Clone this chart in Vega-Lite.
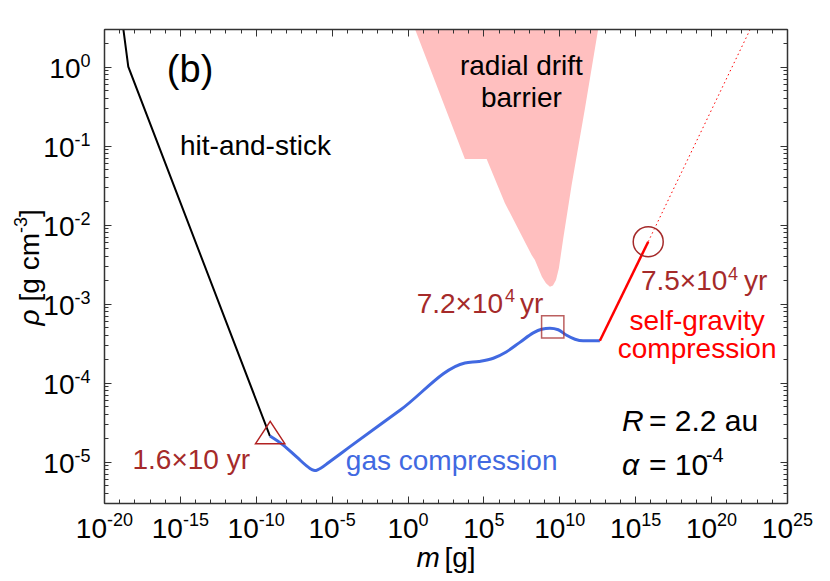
{
  "$schema": "https://vega.github.io/schema/vega-lite/v6.json",
  "width": 683,
  "height": 474,
  "autosize": "none",
  "padding": {"left": 104, "top": 29, "right": 43, "bottom": 78},
  "background": "white",
  "config": {
    "view": {"stroke": null},
    "font": "Liberation Sans",
    "axis": {"grid": false, "tickColor": "#333", "domainColor": "#333", "labelColor": "black", "titleColor": "black"}
  },
  "resolve": {"axis": {"x": "independent", "y": "independent"}},
  "datasets": {
    "barrier": [
      {"m": 3.07, "rho": 3.0},
      {"m": 6026, "rho": 0.0679},
      {"m": 162200, "rho": 0.0679},
      {"m": 2570000, "rho": 0.01884},
      {"m": 149600000, "rho": 0.00413},
      {"m": 245500000, "rho": 0.00357},
      {"m": 708000000, "rho": 0.00219},
      {"m": 1318000000, "rho": 0.00182},
      {"m": 2400000000, "rho": 0.00164},
      {"m": 3800000000, "rho": 0.0017},
      {"m": 6030000000, "rho": 0.002},
      {"m": 9330000000, "rho": 0.00281},
      {"m": 18200000000, "rho": 0.00673},
      {"m": 64600000000, "rho": 0.0318},
      {"m": 490000000000, "rho": 0.297},
      {"m": 3630000000000, "rho": 3.0}
    ],
    "hit": [
      {"m": 1.55e-19, "rho": 3.98},
      {"m": 3.98e-19, "rho": 1.0},
      {"m": 8.61e-10, "rho": 2.11e-5}
    ],
    "gas": [
      {"m": 8.61e-10, "rho": 2.11e-5},
      {"m": 6.46e-9, "rho": 1.62e-5},
      {"m": 4.9e-8, "rho": 1.148e-5},
      {"m": 3.72e-7, "rho": 8.22e-6},
      {"m": 5.0e-7, "rho": 7.94e-6},
      {"m": 7.94e-7, "rho": 7.73e-6},
      {"m": 1.26e-6, "rho": 7.94e-6},
      {"m": 2.0e-6, "rho": 8.32e-6},
      {"m": 6.31e-6, "rho": 9.77e-6},
      {"m": 1.62e-4, "rho": 1.55e-5},
      {"m": 0.316, "rho": 4.47e-5},
      {"m": 6026, "rho": 1.78e-4},
      {"m": 50100, "rho": 1.86e-4},
      {"m": 447000, "rho": 2.04e-4},
      {"m": 3160000, "rho": 2.45e-4},
      {"m": 25100000, "rho": 3.24e-4},
      {"m": 190500000, "rho": 4.27e-4},
      {"m": 676000000, "rho": 4.75e-4},
      {"m": 2400000000, "rho": 4.9e-4},
      {"m": 8510000000, "rho": 4.68e-4},
      {"m": 30200000000, "rho": 3.98e-4},
      {"m": 107000000000, "rho": 3.55e-4},
      {"m": 372000000000, "rho": 3.39e-4},
      {"m": 4680000000000, "rho": 3.39e-4}
    ],
    "selfgrav": [
      {"m": 4680000000000, "rho": 3.39e-4},
      {"m": 7.18e15, "rho": 6.09e-3}
    ],
    "extrap": [
      {"m": 7.18e15, "rho": 6.09e-3},
      {"m": 1e23, "rho": 4.4}
    ],
    "tri": [{"m": 8.91e-10, "rho": 2.34e-5}],
    "sq": [{"m": 3.67e9, "rho": 5.1e-4}],
    "circ": [{"m": 7.18e15, "rho": 6.09e-3}],
    "notes": [
      {"g": "bk", "m": 3.16e7, "rho": 0.785, "label": "radial drift"},
      {"g": "bk", "m": 3.16e7, "rho": 0.312, "label": "barrier"},
      {"g": "bl", "m": 1.016e-15, "rho": 0.0762, "label": "hit-and-stick"},
      {"g": "bl30", "m": 7.94e15, "rho": 2.45e-5, "label": "= 2.2 au"},
      {"g": "bl30", "m": 7.94e15, "rho": 6.79e-6, "label": "= 10"},
      {"g": "sup", "m": 4.54e19, "rho": 1.0e-5, "label": "-4"},
      {"g": "it30", "m": 1.33e14, "rho": 2.45e-5, "label": "R"},
      {"g": "it30", "m": 1.33e14, "rho": 6.79e-6, "label": "α"},
      {"g": "b", "m": 4.68e-15, "rho": 0.646, "label": "(b)"},
      {"g": "br", "m": 5.62e-15, "rho": 8.01e-6, "label": "1.6×10 yr"},
      {"g": "brl", "m": 3.98, "rho": 7.55e-4, "label": "7.2×10"},
      {"g": "brs", "m": 2.61e6, "rho": 1.05e-3, "label": "4"},
      {"g": "brl", "m": 2.54e7, "rho": 7.55e-4, "label": "yr"},
      {"g": "brl", "m": 2.38e15, "rho": 1.49e-3, "label": "7.5×10"},
      {"g": "brs", "m": 1.28e21, "rho": 2.0e-3, "label": "4"},
      {"g": "brl", "m": 1.45e22, "rho": 1.49e-3, "label": "yr"},
      {"g": "rd", "m": 1.2e19, "rho": 4.71e-4, "label": "self-gravity"},
      {"g": "rd", "m": 1.2e19, "rho": 2.05e-4, "label": "compression"},
      {"g": "blue", "m": 803, "rho": 7.85e-6, "label": "gas compression"}
    ]
  },
  "layer": [
    {
      "data": {"name": "barrier"},
      "mark": {"type": "area", "color": "#ffbfbf", "opacity": 1, "clip": true},
      "encoding": {
        "x": {"field": "m", "type": "quantitative", "scale": {"type": "log", "domain": [1e-20, 1e25], "nice": false},
          "axis": {"orient": "bottom", "values": [1e-20, 1e-15, 1e-10, 1e-5, 1, 1e5, 1e10, 1e15, 1e20, 1e25],
            "labelExpr": "'10'", "labelFontSize": 28, "labelAlign": "right", "labelBaseline": "alphabetic", "labelPadding": 34.5,
            "labelOffset": {"condition": [{"test": "datum.value < 1e-7", "value": 2.5}, {"test": "datum.value < 1e-2", "value": 7.5}, {"test": "datum.value < 1e7", "value": 10.5}], "value": 5.5},
            "labelFlush": false, "labelOverlap": false, "labelBound": false,
            "ticks": false, "domain": false, "grid": false,
            "title": "m", "titleFontSize": 28, "titleFontWeight": "normal", "titleFontStyle": "italic", "titleAlign": "left", "titleX": 312, "titleY": 63, "titleBaseline": "alphabetic"}},
        "y": {"field": "rho", "type": "quantitative", "scale": {"type": "log", "domain": [3e-6, 3], "nice": false},
          "axis": {"orient": "left", "values": [1e-5, 1e-4, 1e-3, 1e-2, 1e-1, 1],
            "labelExpr": "'10'", "labelFontSize": 28, "labelAlign": "right", "labelBaseline": "alphabetic", "labelOffset": 11,
            "labelPadding": {"condition": {"test": "datum.value >= 1", "value": 24}, "value": 30},
            "labelFlush": false, "labelOverlap": false, "labelBound": false,
            "ticks": false, "domain": false, "grid": false,
            "title": "ρ", "titleFontSize": 28, "titleFontWeight": "normal", "titleFontStyle": "italic", "titleAngle": -90, "titleX": -66, "titleY": 296, "titleAlign": "left", "titleBaseline": "alphabetic"}},
        "y2": {"datum": 3}
      }
    },
    {
      "data": {"name": "hit"},
      "mark": {"type": "line", "color": "black", "strokeWidth": 2, "clip": true},
      "encoding": {
        "x": {"field": "m", "type": "quantitative", "scale": {"type": "log", "domain": [1e-20, 1e25], "nice": false},
          "axis": {"orient": "bottom", "values": [1e-20, 1e-15, 1e-10, 1e-5, 1, 1e5, 1e10, 1e15, 1e20, 1e25],
            "labels": false, "ticks": true, "tickSize": -7, "tickWidth": 1, "domain": true, "domainWidth": 1.5, "grid": false, "title": null, "zindex": 1}},
        "y": {"field": "rho", "type": "quantitative", "scale": {"type": "log", "domain": [3e-6, 3], "nice": false},
          "axis": {"orient": "left", "values": [1e-5, 1e-4, 1e-3, 1e-2, 1e-1, 1],
            "labels": false, "ticks": true, "tickSize": -7, "tickWidth": 1, "domain": true, "domainWidth": 1.5, "grid": false, "zindex": 1,
            "title": "-3", "titleFontSize": 18, "titleFontWeight": "normal", "titleAngle": -90, "titleX": -78, "titleY": 203.5, "titleAlign": "left", "titleBaseline": "alphabetic"}}
      }
    },
    {
      "data": {"name": "gas"},
      "mark": {"type": "line", "color": "#4169e1", "strokeWidth": 3, "interpolate": "monotone", "clip": true},
      "encoding": {
        "x": {"field": "m", "type": "quantitative", "scale": {"type": "log", "domain": [1e-20, 1e25], "nice": false},
          "axis": {"orient": "bottom", "values": [1e-20, 1e-19, 1e-18, 1e-17, 1e-16, 1e-15, 1e-14, 1e-13, 1e-12, 1e-11, 1e-10, 1e-9, 1e-8, 1e-7, 1e-6, 1e-5, 1e-4, 1e-3, 1e-2, 1e-1, 1, 10, 100, 1e3, 1e4, 1e5, 1e6, 1e7, 1e8, 1e9, 1e10, 1e11, 1e12, 1e13, 1e14, 1e15, 1e16, 1e17, 1e18, 1e19, 1e20, 1e21, 1e22, 1e23, 1e24, 1e25],
            "labels": false, "ticks": true, "tickSize": -4, "tickWidth": 1, "domain": false, "grid": false, "title": null, "zindex": 1}},
        "y": {"field": "rho", "type": "quantitative", "scale": {"type": "log", "domain": [3e-6, 3], "nice": false},
          "axis": {"orient": "left", "values": [3e-6, 4e-6, 5e-6, 6e-6, 7e-6, 8e-6, 9e-6, 2e-5, 3e-5, 4e-5, 5e-5, 6e-5, 7e-5, 8e-5, 9e-5, 2e-4, 3e-4, 4e-4, 5e-4, 6e-4, 7e-4, 8e-4, 9e-4, 2e-3, 3e-3, 4e-3, 5e-3, 6e-3, 7e-3, 8e-3, 9e-3, 0.02, 0.03, 0.04, 0.05, 0.06, 0.07, 0.08, 0.09, 0.2, 0.3, 0.4, 0.5, 0.6, 0.7, 0.8, 0.9, 2, 3],
            "labels": false, "ticks": true, "tickSize": -4, "tickWidth": 1, "domain": false, "grid": false, "zindex": 1,
            "title": "]", "titleFontSize": 28, "titleFontWeight": "normal", "titleAngle": -90, "titleX": -66, "titleY": 187.5, "titleAlign": "left", "titleBaseline": "alphabetic"}}
      }
    },
    {
      "data": {"name": "selfgrav"},
      "mark": {"type": "line", "color": "#ff0000", "strokeWidth": 2.5, "clip": true},
      "encoding": {
        "x": {"field": "m", "type": "quantitative", "scale": {"type": "log", "domain": [1e-20, 1e25], "nice": false},
          "axis": {"orient": "top", "values": [1e-20, 1e-15, 1e-10, 1e-5, 1, 1e5, 1e10, 1e15, 1e20, 1e25],
            "labels": false, "ticks": true, "tickSize": -7, "tickWidth": 1, "domain": true, "domainWidth": 1.5, "grid": false, "title": null, "zindex": 1}},
        "y": {"field": "rho", "type": "quantitative", "scale": {"type": "log", "domain": [3e-6, 3], "nice": false},
          "axis": {"orient": "right", "values": [1e-5, 1e-4, 1e-3, 1e-2, 1e-1, 1],
            "labels": false, "ticks": true, "tickSize": -7, "tickWidth": 1, "domain": true, "domainWidth": 1.5, "grid": false, "title": null, "zindex": 1}}
      }
    },
    {
      "data": {"name": "extrap"},
      "mark": {"type": "line", "color": "#ff0000", "strokeWidth": 1, "strokeDash": [1.5, 3], "clip": true},
      "encoding": {
        "x": {"field": "m", "type": "quantitative", "scale": {"type": "log", "domain": [1e-20, 1e25], "nice": false},
          "axis": {"orient": "top", "values": [1e-20, 1e-19, 1e-18, 1e-17, 1e-16, 1e-15, 1e-14, 1e-13, 1e-12, 1e-11, 1e-10, 1e-9, 1e-8, 1e-7, 1e-6, 1e-5, 1e-4, 1e-3, 1e-2, 1e-1, 1, 10, 100, 1e3, 1e4, 1e5, 1e6, 1e7, 1e8, 1e9, 1e10, 1e11, 1e12, 1e13, 1e14, 1e15, 1e16, 1e17, 1e18, 1e19, 1e20, 1e21, 1e22, 1e23, 1e24, 1e25],
            "labels": false, "ticks": true, "tickSize": -4, "tickWidth": 1, "domain": false, "grid": false, "title": null, "zindex": 1}},
        "y": {"field": "rho", "type": "quantitative", "scale": {"type": "log", "domain": [3e-6, 3], "nice": false},
          "axis": {"orient": "right", "values": [3e-6, 4e-6, 5e-6, 6e-6, 7e-6, 8e-6, 9e-6, 2e-5, 3e-5, 4e-5, 5e-5, 6e-5, 7e-5, 8e-5, 9e-5, 2e-4, 3e-4, 4e-4, 5e-4, 6e-4, 7e-4, 8e-4, 9e-4, 2e-3, 3e-3, 4e-3, 5e-3, 6e-3, 7e-3, 8e-3, 9e-3, 0.02, 0.03, 0.04, 0.05, 0.06, 0.07, 0.08, 0.09, 0.2, 0.3, 0.4, 0.5, 0.6, 0.7, 0.8, 0.9, 2, 3],
            "labels": false, "ticks": true, "tickSize": -4, "tickWidth": 1, "domain": false, "grid": false, "title": null, "zindex": 1}}
      }
    },
    {
      "data": {"name": "tri"},
      "mark": {"type": "point", "shape": "M0,-0.76L1,0.76L-1,0.76Z", "size": 858, "filled": false, "stroke": "#b22222", "strokeWidth": 1.5, "opacity": 1},
      "encoding": {
        "x": {"field": "m", "type": "quantitative", "scale": {"type": "log", "domain": [1e-20, 1e25], "nice": false},
          "axis": {"orient": "bottom", "values": [1e-20, 1e-15, 1e-10, 1e-5, 1, 1e5, 1e10, 1e15, 1e20, 1e25],
            "labelExpr": "'' + round(log(datum.value)/LN10)", "labelFontSize": 18, "labelAlign": "left", "labelBaseline": "alphabetic", "labelPadding": 22,
            "labelOffset": {"condition": [{"test": "datum.value < 1e-7", "value": 2.5}, {"test": "datum.value < 1e-2", "value": 7.5}, {"test": "datum.value < 1e7", "value": 10.5}], "value": 5.5},
            "labelFlush": false, "labelOverlap": false, "labelBound": false,
            "ticks": false, "domain": false, "grid": false,
            "title": "[g]", "titleFontSize": 28, "titleFontWeight": "normal", "titleAlign": "left", "titleX": 340, "titleY": 63, "titleBaseline": "alphabetic"}},
        "y": {"field": "rho", "type": "quantitative", "scale": {"type": "log", "domain": [3e-6, 3], "nice": false},
          "axis": {"orient": "left", "values": [1e-5, 1e-4, 1e-3, 1e-2, 1e-1, 1],
            "labelExpr": "'' + round(log(datum.value)/LN10)", "labelFontSize": 18, "labelAlign": "right", "labelBaseline": "alphabetic", "labelOffset": 0, "labelPadding": 14,
            "labelFlush": false, "labelOverlap": false, "labelBound": false,
            "ticks": false, "domain": false, "grid": false,
            "title": "[g cm", "titleFontSize": 28, "titleFontWeight": "normal", "titleAngle": -90, "titleX": -66, "titleY": 272, "titleAlign": "left", "titleBaseline": "alphabetic"}}
      }
    },
    {
      "data": {"name": "sq"},
      "mark": {"type": "point", "shape": "square", "size": 497, "filled": false, "stroke": "#a52a2a", "strokeWidth": 1.5, "opacity": 0.75},
      "encoding": {
        "x": {"field": "m", "type": "quantitative", "scale": {"type": "log", "domain": [1e-20, 1e25], "nice": false}, "axis": null},
        "y": {"field": "rho", "type": "quantitative", "scale": {"type": "log", "domain": [3e-6, 3], "nice": false}, "axis": null}
      }
    },
    {
      "data": {"name": "circ"},
      "mark": {"type": "point", "shape": "circle", "size": 900, "filled": false, "stroke": "#a52a2a", "strokeWidth": 1.5, "opacity": 1},
      "encoding": {
        "x": {"field": "m", "type": "quantitative", "scale": {"type": "log", "domain": [1e-20, 1e25], "nice": false}, "axis": null},
        "y": {"field": "rho", "type": "quantitative", "scale": {"type": "log", "domain": [3e-6, 3], "nice": false}, "axis": null}
      }
    },
    {
      "data": {"name": "notes"},
      "transform": [{"filter": "datum.g === 'bk'"}],
      "mark": {"type": "text", "fontSize": 28, "color": "black", "align": "center", "baseline": "alphabetic"},
      "encoding": {
        "x": {"field": "m", "type": "quantitative", "scale": {"type": "log", "domain": [1e-20, 1e25], "nice": false}, "axis": null},
        "y": {"field": "rho", "type": "quantitative", "scale": {"type": "log", "domain": [3e-6, 3], "nice": false}, "axis": null},
        "text": {"field": "label"}
      }
    },
    {
      "data": {"name": "notes"},
      "transform": [{"filter": "datum.g === 'bl'"}],
      "mark": {"type": "text", "fontSize": 28, "color": "black", "align": "left", "baseline": "alphabetic"},
      "encoding": {
        "x": {"field": "m", "type": "quantitative", "scale": {"type": "log", "domain": [1e-20, 1e25], "nice": false}, "axis": null},
        "y": {"field": "rho", "type": "quantitative", "scale": {"type": "log", "domain": [3e-6, 3], "nice": false}, "axis": null},
        "text": {"field": "label"}
      }
    },
    {
      "data": {"name": "notes"},
      "transform": [{"filter": "datum.g === 'bl30'"}],
      "mark": {"type": "text", "fontSize": 30, "color": "black", "align": "left", "baseline": "alphabetic"},
      "encoding": {
        "x": {"field": "m", "type": "quantitative", "scale": {"type": "log", "domain": [1e-20, 1e25], "nice": false}, "axis": null},
        "y": {"field": "rho", "type": "quantitative", "scale": {"type": "log", "domain": [3e-6, 3], "nice": false}, "axis": null},
        "text": {"field": "label"}
      }
    },
    {
      "data": {"name": "notes"},
      "transform": [{"filter": "datum.g === 'sup'"}],
      "mark": {"type": "text", "fontSize": 20, "color": "black", "align": "left", "baseline": "alphabetic"},
      "encoding": {
        "x": {"field": "m", "type": "quantitative", "scale": {"type": "log", "domain": [1e-20, 1e25], "nice": false}, "axis": null},
        "y": {"field": "rho", "type": "quantitative", "scale": {"type": "log", "domain": [3e-6, 3], "nice": false}, "axis": null},
        "text": {"field": "label"}
      }
    },
    {
      "data": {"name": "notes"},
      "transform": [{"filter": "datum.g === 'it30'"}],
      "mark": {"type": "text", "fontSize": 30, "fontStyle": "italic", "color": "black", "align": "left", "baseline": "alphabetic"},
      "encoding": {
        "x": {"field": "m", "type": "quantitative", "scale": {"type": "log", "domain": [1e-20, 1e25], "nice": false}, "axis": null},
        "y": {"field": "rho", "type": "quantitative", "scale": {"type": "log", "domain": [3e-6, 3], "nice": false}, "axis": null},
        "text": {"field": "label"}
      }
    },
    {
      "data": {"name": "notes"},
      "transform": [{"filter": "datum.g === 'b'"}],
      "mark": {"type": "text", "fontSize": 38, "color": "black", "align": "center", "baseline": "alphabetic"},
      "encoding": {
        "x": {"field": "m", "type": "quantitative", "scale": {"type": "log", "domain": [1e-20, 1e25], "nice": false}, "axis": null},
        "y": {"field": "rho", "type": "quantitative", "scale": {"type": "log", "domain": [3e-6, 3], "nice": false}, "axis": null},
        "text": {"field": "label"}
      }
    },
    {
      "data": {"name": "notes"},
      "transform": [{"filter": "datum.g === 'br'"}],
      "mark": {"type": "text", "fontSize": 28, "color": "#a52a2a", "align": "center", "baseline": "alphabetic"},
      "encoding": {
        "x": {"field": "m", "type": "quantitative", "scale": {"type": "log", "domain": [1e-20, 1e25], "nice": false}, "axis": null},
        "y": {"field": "rho", "type": "quantitative", "scale": {"type": "log", "domain": [3e-6, 3], "nice": false}, "axis": null},
        "text": {"field": "label"}
      }
    },
    {
      "data": {"name": "notes"},
      "transform": [{"filter": "datum.g === 'brl'"}],
      "mark": {"type": "text", "fontSize": 28, "color": "#a52a2a", "align": "left", "baseline": "alphabetic"},
      "encoding": {
        "x": {"field": "m", "type": "quantitative", "scale": {"type": "log", "domain": [1e-20, 1e25], "nice": false}, "axis": null},
        "y": {"field": "rho", "type": "quantitative", "scale": {"type": "log", "domain": [3e-6, 3], "nice": false}, "axis": null},
        "text": {"field": "label"}
      }
    },
    {
      "data": {"name": "notes"},
      "transform": [{"filter": "datum.g === 'brs'"}],
      "mark": {"type": "text", "fontSize": 18, "color": "#a52a2a", "align": "left", "baseline": "alphabetic"},
      "encoding": {
        "x": {"field": "m", "type": "quantitative", "scale": {"type": "log", "domain": [1e-20, 1e25], "nice": false}, "axis": null},
        "y": {"field": "rho", "type": "quantitative", "scale": {"type": "log", "domain": [3e-6, 3], "nice": false}, "axis": null},
        "text": {"field": "label"}
      }
    },
    {
      "data": {"name": "notes"},
      "transform": [{"filter": "datum.g === 'rd'"}],
      "mark": {"type": "text", "fontSize": 28, "color": "#ff0000", "align": "center", "baseline": "alphabetic"},
      "encoding": {
        "x": {"field": "m", "type": "quantitative", "scale": {"type": "log", "domain": [1e-20, 1e25], "nice": false}, "axis": null},
        "y": {"field": "rho", "type": "quantitative", "scale": {"type": "log", "domain": [3e-6, 3], "nice": false}, "axis": null},
        "text": {"field": "label"}
      }
    },
    {
      "data": {"name": "notes"},
      "transform": [{"filter": "datum.g === 'blue'"}],
      "mark": {"type": "text", "fontSize": 28, "color": "#4169e1", "align": "center", "baseline": "alphabetic"},
      "encoding": {
        "x": {"field": "m", "type": "quantitative", "scale": {"type": "log", "domain": [1e-20, 1e25], "nice": false}, "axis": null},
        "y": {"field": "rho", "type": "quantitative", "scale": {"type": "log", "domain": [3e-6, 3], "nice": false}, "axis": null},
        "text": {"field": "label"}
      }
    }
  ]
}
